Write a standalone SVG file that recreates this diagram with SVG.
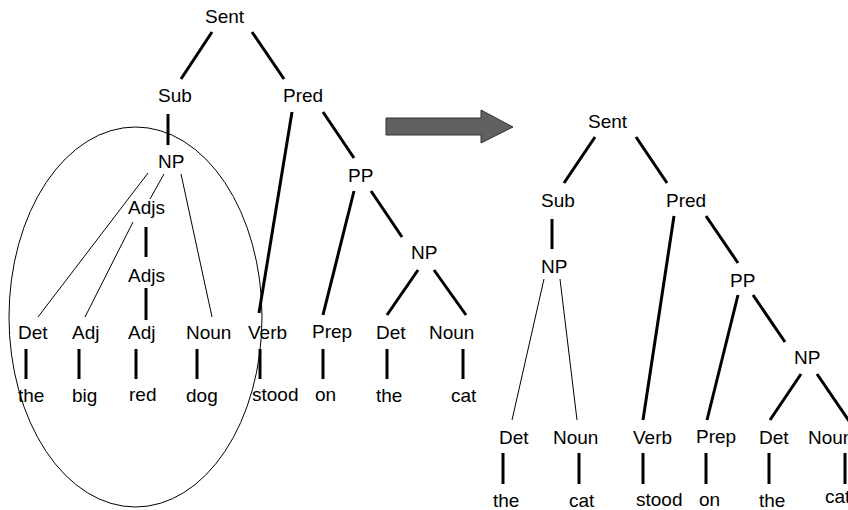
<svg xmlns="http://www.w3.org/2000/svg" width="848" height="510" viewBox="0 0 848 510">
<style>
text{font-family:"Liberation Sans",Arial,sans-serif;font-size:19px;fill:#000}
.k{stroke:#000;stroke-width:3;fill:none}
.t{stroke:#000;stroke-width:1;fill:none}
</style>
<rect width="848" height="510" fill="#fff"/>
<g id="connectors">
<line class="k" x1="212" y1="32" x2="181" y2="79"/>
<line class="k" x1="252" y1="32" x2="284" y2="79"/>
<line class="k" x1="168" y1="114" x2="168" y2="145"/>
<line class="k" x1="292" y1="112" x2="259" y2="313"/>
<line class="k" x1="323" y1="112" x2="354" y2="158"/>
<line class="k" x1="354" y1="191" x2="323" y2="315"/>
<line class="k" x1="371" y1="191" x2="402" y2="237"/>
<line class="k" x1="418" y1="270" x2="387" y2="315"/>
<line class="k" x1="434" y1="270" x2="466" y2="315"/>
<line class="t" x1="148" y1="173" x2="38" y2="317"/>
<line class="t" x1="164" y1="174" x2="150" y2="199"/>
<line class="t" x1="181" y1="174" x2="212" y2="317"/>
<line class="t" x1="133" y1="222" x2="85" y2="317"/>
<line class="k" x1="146" y1="227" x2="146" y2="257"/>
<line class="k" x1="146" y1="288" x2="146" y2="320"/>
<line class="k" x1="26" y1="349" x2="26" y2="379"/>
<line class="k" x1="79" y1="349" x2="79" y2="379"/>
<line class="k" x1="136" y1="349" x2="136" y2="379"/>
<line class="k" x1="197" y1="349" x2="197" y2="379"/>
<line class="k" x1="260" y1="349" x2="260" y2="379"/>
<line class="k" x1="323" y1="349" x2="323" y2="379"/>
<line class="k" x1="387" y1="349" x2="387" y2="379"/>
<line class="k" x1="463" y1="349" x2="463" y2="379"/>
<line class="k" x1="595" y1="137" x2="564" y2="183"/>
<line class="k" x1="636" y1="137" x2="667" y2="183"/>
<line class="k" x1="552" y1="219" x2="552" y2="249"/>
<line class="k" x1="674" y1="216" x2="643" y2="420"/>
<line class="k" x1="706" y1="216" x2="738" y2="263"/>
<line class="k" x1="738" y1="295" x2="707" y2="420"/>
<line class="k" x1="753" y1="295" x2="785" y2="342"/>
<line class="k" x1="801" y1="374" x2="770" y2="420"/>
<line class="k" x1="817" y1="374" x2="849" y2="421"/>
<line class="t" x1="544" y1="279" x2="512" y2="420"/>
<line class="t" x1="560" y1="279" x2="577" y2="420"/>
<line class="k" x1="503" y1="453" x2="503" y2="484"/>
<line class="k" x1="579" y1="453" x2="579" y2="484"/>
<line class="k" x1="643" y1="453" x2="643" y2="484"/>
<line class="k" x1="706" y1="453" x2="706" y2="484"/>
<line class="k" x1="769" y1="453" x2="769" y2="484"/>
<line class="k" x1="845" y1="453" x2="845" y2="484"/>
</g>
<g id="left-tree">
<g id="l-sent"><text x="205" y="23">Sent</text></g>
<g id="l-sub"><text x="158" y="102">Sub</text></g>
<g id="l-pred"><text x="283" y="102">Pred</text></g>
<g id="l-np"><text x="158" y="168">NP</text></g>
<g id="l-adjs1"><text x="128" y="214">Adjs</text></g>
<g id="l-adjs2"><text x="128" y="282">Adjs</text></g>
<g id="l-pp"><text x="348" y="182">PP</text></g>
<g id="l-np2"><text x="411" y="259">NP</text></g>
<g id="l-det"><text x="18" y="339">Det</text></g>
<g id="l-adj1"><text x="72" y="339">Adj</text></g>
<g id="l-adj2"><text x="128" y="339">Adj</text></g>
<g id="l-noun"><text x="186" y="339">Noun</text></g>
<g id="l-verb"><text x="248" y="339">Verb</text></g>
<g id="l-prep"><text x="312" y="338">Prep</text></g>
<g id="l-det2"><text x="376" y="339">Det</text></g>
<g id="l-noun2"><text x="429" y="339">Noun</text></g>
<g id="l-the"><text x="18" y="402">the</text></g>
<g id="l-big"><text x="72" y="402">big</text></g>
<g id="l-red"><text x="129" y="401">red</text></g>
<g id="l-dog"><text x="186" y="402">dog</text></g>
<g id="l-stood"><text x="252" y="401">stood</text></g>
<g id="l-on"><text x="315" y="401">on</text></g>
<g id="l-the2"><text x="376" y="402">the</text></g>
<g id="l-cat"><text x="451" y="402">cat</text></g>
</g>
<g id="ellipse"><ellipse cx="135.5" cy="317" rx="126.5" ry="190" fill="none" stroke="#000" stroke-width="1"/></g>
<g id="arrow"><polygon points="386,118 481,118 481,110 513,127 481,143 481,135 386,135" fill="#606060" stroke="#333" stroke-width="1"/></g>
<g id="right-tree">
<g id="r-sent"><text x="588" y="128">Sent</text></g>
<g id="r-sub"><text x="541" y="207">Sub</text></g>
<g id="r-pred"><text x="666" y="207">Pred</text></g>
<g id="r-np"><text x="541" y="273">NP</text></g>
<g id="r-pp"><text x="730" y="287">PP</text></g>
<g id="r-np2"><text x="794" y="364">NP</text></g>
<g id="r-det"><text x="499" y="444">Det</text></g>
<g id="r-noun"><text x="553" y="444">Noun</text></g>
<g id="r-verb"><text x="633" y="444">Verb</text></g>
<g id="r-prep"><text x="696" y="443">Prep</text></g>
<g id="r-det2"><text x="759" y="444">Det</text></g>
<g id="r-noun2"><text x="808" y="444">Noun</text></g>
<g id="r-the"><text x="493" y="507">the</text></g>
<g id="r-cat"><text x="569" y="507">cat</text></g>
<g id="r-stood"><text x="636" y="506">stood</text></g>
<g id="r-on"><text x="699" y="506">on</text></g>
<g id="r-the2"><text x="759" y="507">the</text></g>
<g id="r-cat2"><text x="825" y="503">cat</text></g>
</g>
</svg>
